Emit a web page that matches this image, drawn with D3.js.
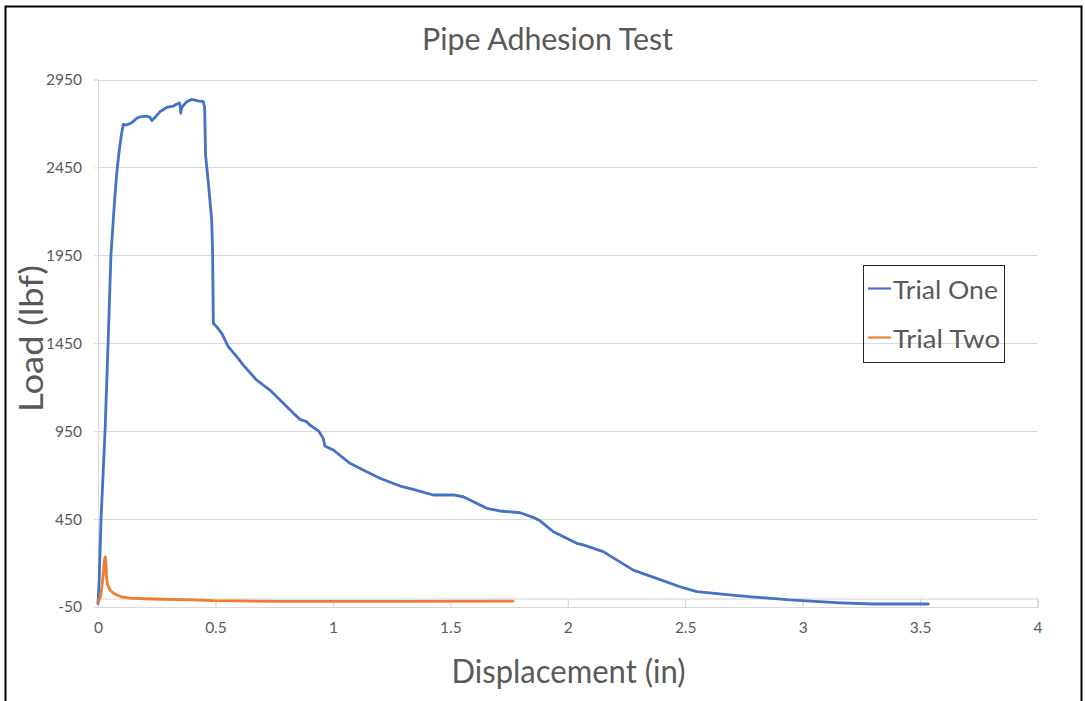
<!DOCTYPE html>
<html>
<head>
<meta charset="utf-8">
<script src="https://cdn.jsdelivr.net/npm/d3@7"></script>
<style>
  html, body { margin: 0; padding: 0; background: #ffffff; }
  svg { display: block; }
  text { font-family: Lato, "Open Sans", sans-serif; fill: #595959; }
</style>
</head>
<body>
<svg id="chart" width="1085" height="701"></svg>
<script>
// ---- data ----
const chartTitle = "Pipe Adhesion Test";
const xAxisTitle = "Displacement (in)";
const yAxisTitle = "Load (lbf)";
const seriesNames = ["Trial One", "Trial Two"];
const seriesColors = ["#4472C4", "#ED7D31"];
const xTicks = [0, 0.5, 1, 1.5, 2, 2.5, 3, 3.5, 4];
const yTicks = [-50, 450, 950, 1450, 1950, 2450, 2950];

const displacementOne = [0.000, 0.005, 0.013, 0.030, 0.043, 0.055, 0.060, 0.070, 0.080, 0.090, 0.100, 0.108, 0.122, 0.143, 0.165, 0.179, 0.207, 0.221, 0.229, 0.243, 0.264, 0.292, 0.321, 0.346, 0.350, 0.352, 0.356, 0.378, 0.399, 0.427, 0.448, 0.454, 0.458, 0.470, 0.484, 0.488, 0.491, 0.505, 0.527, 0.555, 0.587, 0.619, 0.675, 0.732, 0.775, 0.832, 0.860, 0.888, 0.902, 0.940, 0.959, 0.966, 1.002, 1.073, 1.129, 1.200, 1.286, 1.342, 1.427, 1.513, 1.555, 1.655, 1.711, 1.797, 1.853, 1.882, 1.939, 1.967, 2.038, 2.066, 2.151, 2.279, 2.378, 2.478, 2.549, 2.733, 2.946, 3.159, 3.301, 3.535];
const loadOne = [-30, 100, 450, 950, 1450, 1950, 2050, 2250, 2420, 2540, 2640, 2695, 2691, 2704, 2729, 2738, 2742, 2735, 2716, 2735, 2767, 2791, 2799, 2818, 2800, 2758, 2791, 2824, 2837, 2828, 2824, 2790, 2520, 2360, 2151, 1961, 1563, 1544, 1506, 1430, 1380, 1326, 1241, 1184, 1127, 1052, 1017, 1004, 985, 950, 909, 866, 843, 767, 729, 682, 638, 619, 587, 587, 577, 511, 496, 486, 460, 440, 378, 359, 312, 303, 265, 160, 113, 65, 37, 13, -10, -26, -33, -33];

const displacementTwo = [0.000, 0.005, 0.011, 0.018, 0.023, 0.028, 0.031, 0.034, 0.036, 0.040, 0.051, 0.065, 0.080, 0.100, 0.136, 0.200, 0.278, 0.400, 0.491, 0.775, 1.000, 1.300, 1.767];
const loadTwo = [-20, -10, 9, 80, 151, 220, 235, 200, 120, 80, 47, 30, 18, 8, 0, -3, -6, -10, -14, -18, -18, -18, -17];

// ---- layout ----
const svg = d3.select("#chart");
const x = d3.scaleLinear().domain([0, 4]).range([98, 1037.5]);
const y = d3.scaleLinear().domain([-50, 2950]).range([607, 79.5]);

// outer border
svg.append("rect").attr("x", 5.5).attr("y", 6.5).attr("width", 1076).attr("height", 700)
  .attr("fill", "none").attr("stroke", "#000").attr("stroke-width", 2);

// gridlines
svg.append("g").selectAll("line").data(yTicks).join("line")
  .attr("x1", x(0)).attr("x2", x(4))
  .attr("y1", d => Math.round(y(d)) + 0.5).attr("y2", d => Math.round(y(d)) + 0.5)
  .attr("stroke", "#d9d9d9").attr("stroke-width", 1);

// y axis
const yAxis = d3.axisLeft(y).tickValues(yTicks).tickSize(4).tickPadding(12).tickFormat(d => String(d));
const gy = svg.append("g").attr("transform", `translate(${x(0)},0)`).call(yAxis);
gy.select(".domain").attr("stroke", "#d9d9d9");
gy.selectAll(".tick line").attr("stroke", "#d9d9d9");
gy.selectAll(".tick text").attr("font-size", 15.5).attr("fill", "#595959")
  .attr("font-family", "Lato, sans-serif");

// x axis (crosses at 0)
const xAxis = d3.axisBottom(x).tickValues(xTicks).tickSize(9).tickPadding(14).tickFormat(d => String(d));
const gx = svg.append("g").attr("transform", `translate(0,${Math.round(y(0)) + 0.5})`).call(xAxis);
gx.select(".domain").attr("stroke", "#d0d0d0");
gx.selectAll(".tick line").attr("stroke", "#d0d0d0");
gx.selectAll(".tick text").attr("font-size", 15.5).attr("fill", "#595959")
  .attr("font-family", "Lato, sans-serif");

// lines
const line = d3.line().x(d => x(d[0])).y(d => y(d[1]));
const series = [
  d3.zip(displacementOne, loadOne),
  d3.zip(displacementTwo, loadTwo)
];
svg.append("g").selectAll("path").data(series).join("path")
  .attr("d", line)
  .attr("fill", "none")
  .attr("stroke", (d, i) => seriesColors[i])
  .attr("stroke-width", 2.8)
  .attr("stroke-linejoin", "round")
  .attr("stroke-linecap", "round");

// titles
svg.append("text").attr("x", 547.5).attr("y", 50).attr("text-anchor", "middle")
  .attr("font-size", 30).attr("textLength", 251).attr("lengthAdjust", "spacingAndGlyphs")
  .text(chartTitle);
svg.append("text").attr("x", 568.5).attr("y", 683).attr("text-anchor", "middle")
  .attr("font-size", 33).attr("textLength", 234).attr("lengthAdjust", "spacingAndGlyphs")
  .text(xAxisTitle);
svg.append("text").attr("transform", "translate(43,338.5) rotate(-90)").attr("text-anchor", "middle")
  .attr("font-size", 33).attr("textLength", 147).attr("lengthAdjust", "spacingAndGlyphs")
  .text(yAxisTitle);

// legend
const lg = svg.append("g");
lg.append("rect").attr("x", 863.5).attr("y", 265.5).attr("width", 141).attr("height", 97)
  .attr("fill", "none").attr("stroke", "#262626").attr("stroke-width", 1);
const legY = [288.5, 337.5];
seriesNames.forEach((name, i) => {
  lg.append("line").attr("x1", 868).attr("x2", 891).attr("y1", legY[i]).attr("y2", legY[i])
    .attr("stroke", seriesColors[i]).attr("stroke-width", 2.2);
  lg.append("text").attr("x", 893).attr("y", legY[i] + 10).attr("font-size", 25.5)
    .attr("textLength", i === 0 ? 105 : 107).attr("lengthAdjust", "spacingAndGlyphs")
    .text(name);
});
</script>
</body>
</html>
